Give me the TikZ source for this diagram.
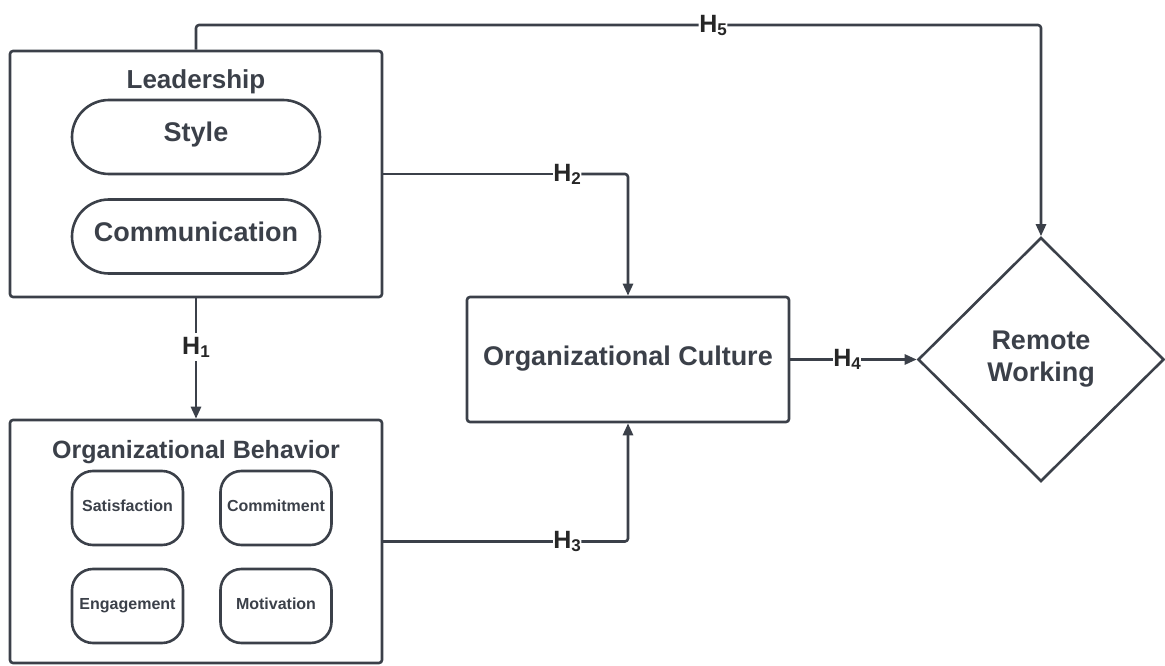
\documentclass[tikz,border=0pt]{standalone}
\usepackage{fontspec}
\setmainfont{Liberation Sans}
\usetikzlibrary{shapes.geometric,arrows.meta}
\definecolor{ink}{HTML}{3B4049}
\definecolor{lab}{HTML}{262626}
\newcommand{\hsub}[1]{H\raisebox{-3pt}{\fontsize{17}{17}\selectfont #1}}
\begin{document}
\begin{tikzpicture}[x=1pt,y=-1pt,
  frame/.style={draw=ink, line width=2.6pt, rounded corners=3pt, inner sep=0pt},
  pill/.style={draw=ink, line width=2.6pt, inner sep=0pt, text=ink,
    font=\fontsize{27}{32}\selectfont\bfseries, text height=19pt, text depth=9pt,
    minimum width=248pt, minimum height=74pt, rounded corners=37pt},
  chip/.style={draw=ink, line width=2.6pt, inner sep=0pt, text=ink,
    font=\fontsize{16}{19}\selectfont\bfseries, text height=11.5pt, text depth=5.5pt,
    minimum width=111pt, minimum height=74pt, rounded corners=21pt},
  title/.style={anchor=base, text=ink, inner sep=0pt},
  big/.style={font=\fontsize{27}{32}\selectfont\bfseries, text=ink},
  hyp/.style={font=\fontsize{25}{25}\selectfont\bfseries, text=lab, fill=white, inner sep=0.5pt},
  conn/.style={draw=ink, line width=2.6pt, rounded corners=3pt, line join=round},
  arr/.style={conn, -{Triangle[length=12pt,width=10pt]}}]
\useasboundingbox (0,0) rectangle (1165,666);

% Leadership block
\node[frame, minimum width=372pt, minimum height=246pt] (lead) at (196,174) {};
\node[title, font=\fontsize{26}{30}\selectfont\bfseries] (leadt) at (196,89) {Leadership};
\node[pill] (style) at (196,137) {Style};
\node[pill] (comm) at (196,236.5) {Communication};

% Organizational behavior block
\node[frame, minimum width=372pt, minimum height=243pt] (ob) at (196,541.5) {};
\node[title, font=\fontsize{25}{30}\selectfont\bfseries] (obt) at (196,458) {Organizational Behavior};
\node[chip] (sat) at (127.5,508) {Satisfaction};
\node[chip] (com) at (276,508) {Commitment};
\node[chip] (eng) at (127.5,606) {Engagement};
\node[chip] (mot) at (276,606) {Motivation};

% Organizational culture and remote working
\node[frame, big, minimum width=322pt, minimum height=125pt, text height=19pt, text depth=8pt] (oc) at (628,359.5) {Organizational Culture};
\node[draw=ink, line width=2.6pt, diamond, minimum width=246pt, minimum height=244pt,
  inner sep=0pt, big, align=center] (rw) at (1041,359.5) {Remote\\Working};

% Hypothesis labels
\node[hyp, inner ysep=4pt] (h1) at (196,347) {\hsub{1}};
\node[hyp] (h2) at (567,174) {\hsub{2}};
\node[hyp] (h3) at (567,541.5) {\hsub{3}};
\node[hyp] (h4) at (847,359.5) {\hsub{4}};
\node[hyp] (h5) at (713,25) {\hsub{5}};

% Connectors
\draw[conn] (lead.south) -- (h1.north);
\draw[arr] (h1.south) -- (ob.north);
\draw[conn] (lead.east) -- (h2.west);
\draw[arr] (h2.east) -| (oc.north);
\draw[conn] (ob.east) -- (h3.west);
\draw[arr] (h3.east) -| (oc.south);
\draw[conn] (oc.east) -- (h4.west);
\draw[arr] (h4.east) -- (rw.west);
\draw[conn] (lead.north) |- (h5.west);
\draw[arr] (h5.east) -| (rw.north);
\end{tikzpicture}
\end{document}
